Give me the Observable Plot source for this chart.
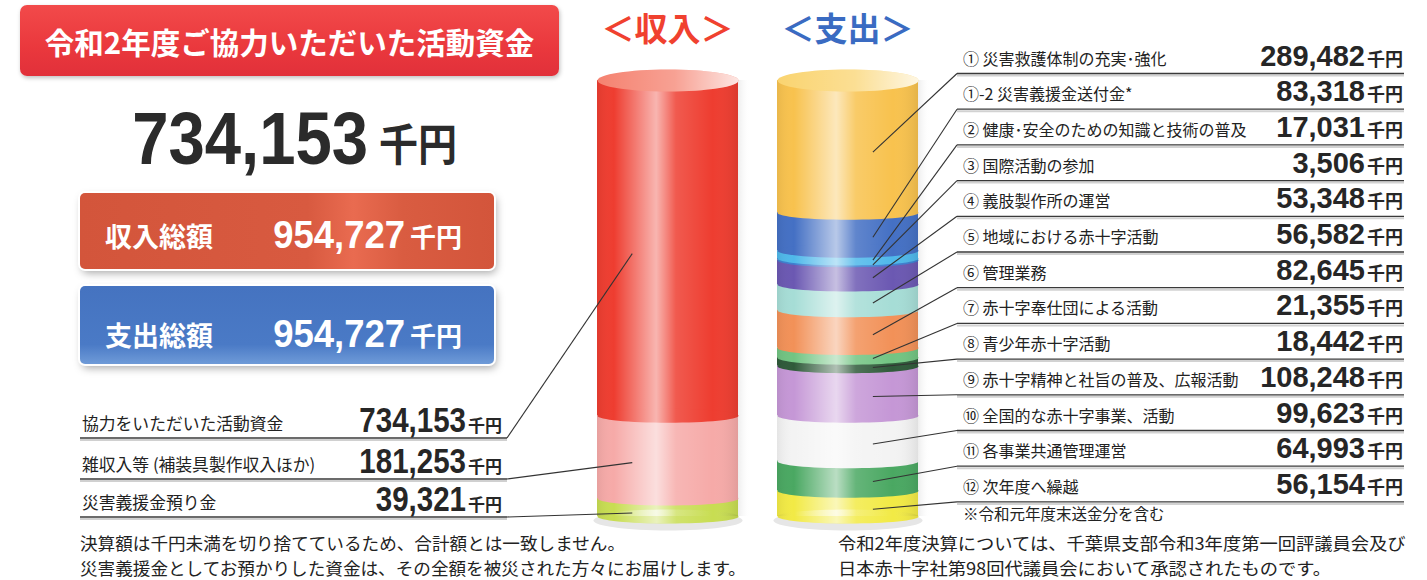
<!DOCTYPE html>
<html><head><meta charset="utf-8">
<script src="https://cdn.jsdelivr.net/npm/d3@7"></script>
<script src="https://cdn.jsdelivr.net/npm/@observablehq/plot@0.6"></script>
<style>
html,body{margin:0;padding:0;background:#fff;}
#wrap{position:relative;width:1427px;height:580px;overflow:hidden;}
.box{position:absolute;}
#titleBox{left:20px;top:5px;width:539px;height:71px;border-radius:7px;
  background:linear-gradient(180deg,#f24a4a 0%,#ea383d 60%,#e1303a 100%);box-shadow:1px 2px 4px rgba(0,0,0,0.25);}
#inBox{left:80px;top:193px;width:414px;height:76px;border-radius:5px;
  background:linear-gradient(90deg,#d3553b 0%,#d85a40 55%,#e96b50 66%,#d95c41 78%,#d3553b 100%);
  box-shadow:0 0 0 2px #fff,2px 4px 9px rgba(0,0,0,0.35);}
#outBox{left:80px;top:286px;width:414px;height:78px;border-radius:5px;
  background:linear-gradient(180deg,#4573c0 0%,#4a7ac6 75%,#6f9bd8 100%);
  box-shadow:0 0 0 2px #fff,2px 4px 9px rgba(0,0,0,0.35);}
#chart{position:absolute;left:0;top:0;}
</style></head><body>
<div id="wrap">
  <div class="box" id="titleBox"></div>
  <div class="box" id="inBox"></div>
  <div class="box" id="outBox"></div>
  <div id="chart"></div>
</div>
<script>
// ---------- data ----------
const sides = ["収入", "支出"];
const sideHeaders = ["＜収入＞", "＜支出＞"];
const sideHeaderColors = ["#f0412f", "#3a6bc2"];

const titleText = "令和2年度ご協力いただいた活動資金";
const donationTotal = "734,153";
const unit = "千円";
const summaryLabels = ["収入総額", "支出総額"];
const summaryValues = ["954,727", "954,727"];

const incomeLabels = ["協力をいただいた活動資金", "雑収入等 (補装具製作収入ほか)", "災害義援金預り金"];
const incomeValues = [734153, 181253, 39321];
const incomeColors = ["#ee3d30", "#f6aaa8", "#c8dd52"];

const expenseLabels = [
  "① 災害救護体制の充実･強化",
  "①-2 災害義援金送付金*",
  "② 健康･安全のための知識と技術の普及",
  "③ 国際活動の参加",
  "④ 義肢製作所の運営",
  "⑤ 地域における赤十字活動",
  "⑥ 管理業務",
  "⑦ 赤十字奉仕団による活動",
  "⑧ 青少年赤十字活動",
  "⑨ 赤十字精神と社旨の普及、広報活動",
  "⑩ 全国的な赤十字事業、活動",
  "⑪ 各事業共通管理運営",
  "⑫ 次年度へ繰越"
];
const expenseValues = [289482, 83318, 17031, 3506, 53348, 56582, 82645, 21355, 18442, 108248, 99623, 64993, 56154];
const expenseColors = ["#f8c24e", "#4470c4", "#4fb8ea", "#3d7fcf", "#6b58b2", "#a6ddd6", "#f29158",
                       "#72c482", "#2f5a3a", "#c597d6", "#f3f3f3", "#4aa862", "#f2ea45"];
const capColors = ["#f58270", "#fad470"];

const expenseNote = "※令和元年度末送金分を含む";
const notesLeft = ["決算額は千円未満を切り捨てているため、合計額とは一致しません。",
                   "災害義援金としてお預かりした資金は、その全額を被災された方々にお届けします。"];
const notesRight = ["令和2年度決算については、千葉県支部令和3年度第一回評議員会及び",
                    "日本赤十字社第98回代議員会において承認されたものです。"];

// ---------- tables ----------
function stackTable(side, labels, values, colors) {
  let acc = 0;
  return values.map((v, i) => { const y1 = acc; acc += v; return {side, label: labels[i], value: v, color: colors[i], y1, y2: acc}; });
}
const income = stackTable("収入", incomeLabels, incomeValues, incomeColors);
const expense = stackTable("支出", expenseLabels, expenseValues, expenseColors);
const rows = income.concat(expense);
const rowsRev = rows.slice().reverse();
const cyl = sides.map((s, i) => ({side: s, total: d3.sum(i ? expenseValues : incomeValues), cap: capColors[i]}));
const total = d3.max(cyl, d => d.total);

// ---------- layout ----------
const W = 1427, H = 580;
const cylLeft = 597, cylRight = 918, cylTop = 80, cylBottom = 516, gap = 39 / 180;
const rx = (cylRight - cylLeft) / (sides.length - gap) * (1 - gap) / 2;
const K = 0.5522847498;
const ellipse = (a, b) => ({draw(c) {
  c.moveTo(a, 0);
  c.bezierCurveTo(a, b * K, a * K, b, 0, b);
  c.bezierCurveTo(-a * K, b, -a, b * K, -a, 0);
  c.bezierCurveTo(-a, -b * K, -a * K, -b, 0, -b);
  c.bezierCurveTo(a * K, -b, a, -b * K, a, 0);
  c.closePath();
}});
const bandEllipse = ellipse(rx, 7);
const capEllipse = ellipse(rx, 11);

const chart = Plot.plot({
  width: W, height: H,
  marginLeft: cylLeft, marginRight: W - cylRight, marginTop: cylTop, marginBottom: H - cylBottom,
  x: {domain: sides, paddingInner: gap, paddingOuter: 0, axis: null},
  y: {domain: [0, total], reverse: true, axis: null},
  color: {type: "identity"},
  style: {background: "transparent", overflow: "visible"},
  marks: [
    Plot.barY(cyl, {x: "side", y1: 0, y2: "total", fill: "url(#shadowGrad)", dx: 12}),
    Plot.dot(cyl, {x: "side", y: "total", fill: "#e6e6e6", symbol: ellipse(rx + 4, 10), dy: 4}),
    Plot.barY(rows, {x: "side", y1: "y1", y2: "y2", fill: "color"}),
    Plot.dot(rowsRev, {x: "side", y: "y2", fill: "color", symbol: bandEllipse}),
    Plot.barY(cyl, {x: "side", y1: 0, y2: "total", fill: "url(#shade)"}),
    Plot.dot(cyl, {x: "side", y: "total", fill: "url(#shade)", symbol: bandEllipse}),
    Plot.dot(cyl, {x: "side", y: 0, fill: "cap", symbol: capEllipse}),
    Plot.dot(cyl, {x: "side", y: 0, fill: "url(#capShade)", symbol: capEllipse})
  ]
});
document.getElementById("chart").appendChild(chart);

const svg = d3.select(chart);
svg.insert("defs", ":first-child").html(`
<linearGradient id="shade" x1="0" x2="1" y1="0" y2="0">
  <stop offset="0" stop-color="#000" stop-opacity="0.06"/>
  <stop offset="0.12" stop-color="#fff" stop-opacity="0"/>
  <stop offset="0.42" stop-color="#fff" stop-opacity="0.62"/>
  <stop offset="0.56" stop-color="#fff" stop-opacity="0.15"/>
  <stop offset="0.82" stop-color="#fff" stop-opacity="0"/>
  <stop offset="1" stop-color="#000" stop-opacity="0.08"/>
</linearGradient>
<linearGradient id="capShade" x1="0" x2="1" y1="0" y2="0">
  <stop offset="0" stop-color="#fff" stop-opacity="0"/>
  <stop offset="0.55" stop-color="#fff" stop-opacity="0.25"/>
  <stop offset="1" stop-color="#fff" stop-opacity="0.8"/>
</linearGradient>
<linearGradient id="shadowGrad" x1="0" x2="1" y1="0" y2="0">
  <stop offset="0" stop-color="#dcdcdc"/>
  <stop offset="0.88" stop-color="#dcdcdc"/>
  <stop offset="1" stop-color="#fff" stop-opacity="0"/>
</linearGradient>`);

// ---------- annotation layer (positions from Plot's scales) ----------
const xs = chart.scale("x"), ys = chart.scale("y");
const bw = xs.bandwidth;
const JP = "'Noto Sans CJK JP', 'Noto Sans', sans-serif";
const NUM = "'Liberation Sans', Arial, sans-serif";
const g = svg.append("g").attr("text-anchor", "start");
function T(s, x, y, o = {}) {
  const t = g.append("text").attr("x", x).attr("y", y).attr("text-anchor", "start")
    .attr("font-family", JP).attr("fill", "#222").text(s);
  for (const k in o) t.attr(k, o[k]);
  return t;
}
function N(s, x, y, size, k, o = {}) {
  const t = g.append("text").attr("transform", `translate(${x},${y}) scale(${k},1)`)
    .attr("text-anchor", "end").attr("font-family", NUM).attr("font-weight", "bold")
    .attr("font-size", size).attr("fill", "#262626").text(s);
  for (const kk in o) t.attr(kk, o[kk]);
  return t;
}
function line(x1, y1, x2, y2, stroke, w) {
  g.append("line").attr("x1", x1).attr("y1", y1).attr("x2", x2).attr("y2", y2)
    .attr("stroke", stroke).attr("stroke-width", w);
}
function note(s, x, y, size, k) {
  g.append("text").attr("transform", `translate(${x},${y}) scale(${k},1)`).attr("text-anchor", "start")
    .attr("font-family", JP).attr("font-size", size).attr("fill", "#222").text(s);
}

// title & summary
T(titleText, 289.5, 54, {"text-anchor": "middle", "font-size": 29.5, "font-weight": "bold", fill: "#fff"});
N(donationTotal, 368, 164, 75, 0.87, {fill: "#2b2b2b"});
T(unit, 379, 161, {"font-size": 44, "font-weight": "bold", fill: "#2b2b2b", textLength: 78, lengthAdjust: "spacingAndGlyphs"});
[247, 346].forEach((by, i) => {
  T(summaryLabels[i], 105, by, {"font-size": 27, "font-weight": "bold", fill: "#fff"});
  N(summaryValues[i], 405, by + 1, 38, 0.96, {fill: "#fff"});
  T(unit, 410, by, {"font-size": 26, "font-weight": "bold", fill: "#fff"});
});

// headers
sides.forEach((s, i) => {
  T(sideHeaders[i], xs.apply(s) + bw / 2, 41, {"text-anchor": "middle", "font-size": 33, "font-weight": "bold", fill: sideHeaderColors[i]});
});

// income rows (left)
const inLineY = [438, 479, 517];
income.forEach((d, i) => {
  const uy = inLineY[i];
  line(80, uy + 2, 507, uy + 2, "#d0d0d0", 2);
  line(80, uy, 507, uy, "#3a3a3a", 1.4);
  line(507, uy, xs.apply(d.side) + bw * 0.25, ys.apply((d.y1 + d.y2) / 2) + 6, "#333", 1.1);
  T(d.label, 82, uy - 8, {"font-size": 16.8});
  N(d3.format(",")(d.value), 466, uy - 6, 36, 0.82);
  T(unit, 468, uy - 6, {"font-size": 17, "font-weight": "bold", fill: "#262626"});
});

// expense rows (right)
expense.forEach((d, i) => {
  const uy = 73.5 + i * 35.7;
  line(957, uy + 2, 1404, uy + 2, "#d2d2d2", 2);
  line(957, uy, 1404, uy, "#3a3a3a", 1.3);
  line(957, uy, xs.apply(d.side) + bw * 0.68, ys.apply((d.y1 + d.y2) / 2) + 6, "#333", 1.1);
  T(d.label, 963, uy - 9, {"font-size": 16});
  N(d3.format(",")(d.value), 1365, uy - 8, 29, 1);
  T(unit, 1367, uy - 8, {"font-size": 18, "font-weight": "bold", fill: "#262626"});
});
T(expenseNote, 963, 520, {"font-size": 15.5});

// notes
notesLeft.forEach((s, i) => note(s, 80, 550 + i * 25, 17.1, 1.03));
notesRight.forEach((s, i) => note(s, 838, 550 + i * 25, 17.1, 1.07));
</script>
</body></html>
